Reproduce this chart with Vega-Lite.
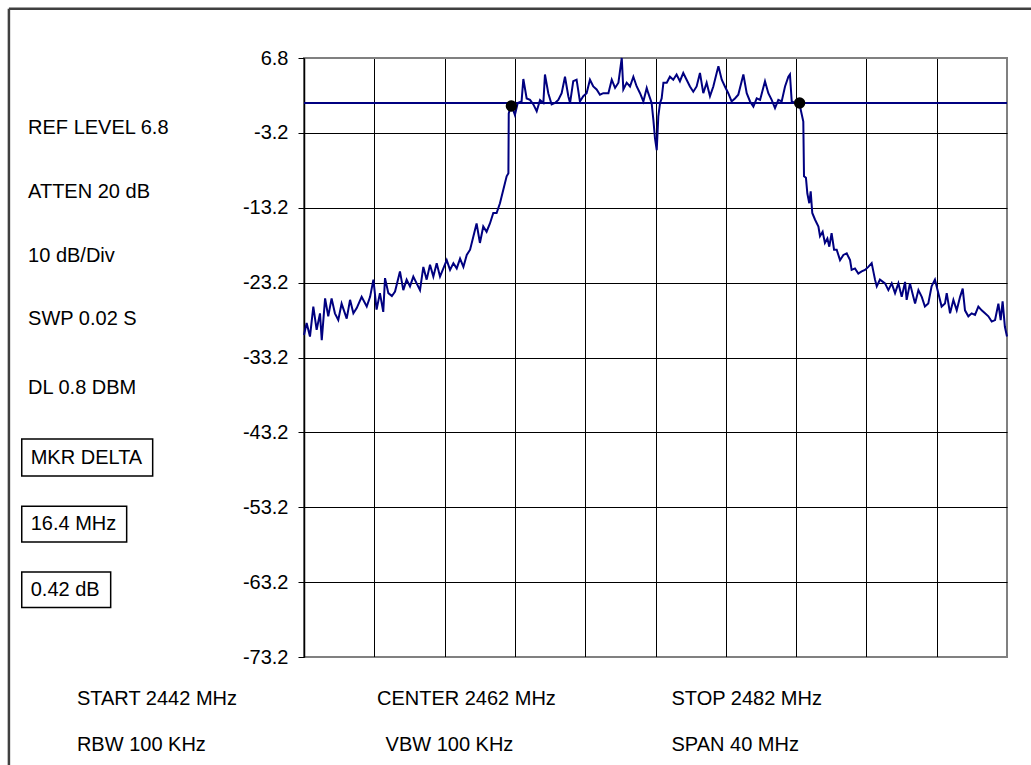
{
  "$schema": "https://vega.github.io/schema/vega-lite/v6.json",
  "autosize": "none",
  "width": 703,
  "height": 599,
  "padding": {"left": 304, "top": 58, "right": 24, "bottom": 108},
  "background": "white",
  "config": {
    "view": {"stroke": "#808080", "strokeWidth": 2},
    "font": "Liberation Sans",
    "text": {"font": "Liberation Sans"}
  },
  "datasets": {
    "trace": [
      {"f":2442.00,"db":-30.2},{"f":2442.15,"db":-28.6},{"f":2442.34,"db":-30.4},{"f":2442.53,"db":-26.4},{"f":2442.72,"db":-29.5},{"f":2442.91,"db":-27.3},{"f":2443.01,"db":-30.9},{"f":2443.20,"db":-25.3},{"f":2443.38,"db":-27.7},{"f":2443.57,"db":-25.3},{"f":2443.76,"db":-27.3},{"f":2443.95,"db":-28.2},{"f":2444.14,"db":-26.0},{"f":2444.43,"db":-28.0},{"f":2444.62,"db":-25.5},{"f":2444.81,"db":-27.3},{"f":2445.00,"db":-26.6},{"f":2445.28,"db":-25.1},{"f":2445.57,"db":-26.4},{"f":2445.76,"db":-25.1},{"f":2445.95,"db":-22.8},{"f":2446.13,"db":-26.8},{"f":2446.32,"db":-24.6},{"f":2446.51,"db":-27.1},{"f":2446.61,"db":-22.6},{"f":2446.80,"db":-24.6},{"f":2447.00,"db":-25.0},{"f":2447.18,"db":-24.4},{"f":2447.46,"db":-21.7},{"f":2447.65,"db":-24.2},{"f":2447.84,"db":-22.8},{"f":2448.03,"db":-23.7},{"f":2448.22,"db":-22.4},{"f":2448.41,"db":-23.3},{"f":2448.60,"db":-24.2},{"f":2448.79,"db":-21.1},{"f":2448.98,"db":-22.8},{"f":2449.17,"db":-20.8},{"f":2449.36,"db":-22.4},{"f":2449.55,"db":-20.6},{"f":2449.74,"db":-22.4},{"f":2449.93,"db":-21.3},{"f":2450.12,"db":-20.2},{"f":2450.31,"db":-21.5},{"f":2450.50,"db":-20.6},{"f":2450.69,"db":-21.3},{"f":2450.88,"db":-20.0},{"f":2451.07,"db":-21.1},{"f":2451.26,"db":-19.5},{"f":2451.45,"db":-18.8},{"f":2451.64,"db":-17.0},{"f":2451.82,"db":-15.3},{"f":2452.01,"db":-17.9},{"f":2452.20,"db":-15.7},{"f":2452.39,"db":-16.4},{"f":2452.58,"db":-15.3},{"f":2452.77,"db":-13.9},{"f":2452.96,"db":-13.9},{"f":2453.15,"db":-12.6},{"f":2453.34,"db":-10.8},{"f":2453.53,"db":-9.0},{"f":2453.63,"db":-8.6},{"f":2453.65,"db":-0.6},{"f":2453.72,"db":0.0},{"f":2453.85,"db":0.2},{"f":2454.00,"db":-0.8},{"f":2454.16,"db":0.8},{"f":2454.38,"db":1.0},{"f":2454.48,"db":4.0},{"f":2454.67,"db":1.4},{"f":2454.86,"db":1.2},{"f":2455.05,"db":0.6},{"f":2455.24,"db":-0.3},{"f":2455.43,"db":1.2},{"f":2455.62,"db":0.8},{"f":2455.71,"db":4.6},{"f":2455.90,"db":2.1},{"f":2456.09,"db":0.6},{"f":2456.28,"db":0.8},{"f":2456.47,"db":1.2},{"f":2456.66,"db":2.1},{"f":2456.85,"db":4.3},{"f":2457.04,"db":1.7},{"f":2457.14,"db":0.8},{"f":2457.32,"db":3.7},{"f":2457.51,"db":3.9},{"f":2457.70,"db":1.0},{"f":2457.89,"db":1.7},{"f":2458.08,"db":2.1},{"f":2458.27,"db":3.9},{"f":2458.46,"db":3.0},{"f":2458.65,"db":2.6},{"f":2458.84,"db":1.9},{"f":2459.03,"db":2.1},{"f":2459.32,"db":2.1},{"f":2459.51,"db":3.9},{"f":2459.70,"db":2.8},{"f":2459.89,"db":3.5},{"f":2460.08,"db":6.8},{"f":2460.17,"db":2.6},{"f":2460.36,"db":3.5},{"f":2460.55,"db":3.0},{"f":2460.74,"db":4.3},{"f":2460.93,"db":3.0},{"f":2461.12,"db":2.1},{"f":2461.31,"db":1.0},{"f":2461.50,"db":2.8},{"f":2461.59,"db":2.1},{"f":2461.78,"db":0.8},{"f":2461.88,"db":-1.5},{"f":2461.97,"db":-3.9},{"f":2462.07,"db":-5.5},{"f":2462.16,"db":-1.0},{"f":2462.26,"db":0.8},{"f":2462.35,"db":1.4},{"f":2462.45,"db":3.5},{"f":2462.64,"db":3.5},{"f":2462.82,"db":4.3},{"f":2463.01,"db":3.9},{"f":2463.20,"db":4.6},{"f":2463.39,"db":3.7},{"f":2463.58,"db":4.8},{"f":2463.77,"db":3.9},{"f":2463.96,"db":3.0},{"f":2464.15,"db":2.3},{"f":2464.34,"db":3.0},{"f":2464.53,"db":4.8},{"f":2464.72,"db":2.1},{"f":2464.91,"db":3.5},{"f":2465.10,"db":1.7},{"f":2465.29,"db":3.0},{"f":2465.48,"db":4.8},{"f":2465.58,"db":5.7},{"f":2465.77,"db":3.9},{"f":2465.95,"db":3.0},{"f":2466.14,"db":2.1},{"f":2466.33,"db":1.0},{"f":2466.52,"db":1.4},{"f":2466.71,"db":1.9},{"f":2467.00,"db":4.6},{"f":2467.19,"db":2.1},{"f":2467.38,"db":1.0},{"f":2467.57,"db":0.3},{"f":2467.76,"db":1.4},{"f":2467.95,"db":1.2},{"f":2468.23,"db":3.7},{"f":2468.42,"db":2.1},{"f":2468.61,"db":1.2},{"f":2468.80,"db":0.1},{"f":2468.99,"db":1.2},{"f":2469.18,"db":1.0},{"f":2469.37,"db":3.0},{"f":2469.56,"db":4.3},{"f":2469.65,"db":4.6},{"f":2469.75,"db":1.0},{"f":2469.94,"db":0.8},{"f":2470.18,"db":0.8},{"f":2470.41,"db":-1.7},{"f":2470.45,"db":-9.0},{"f":2470.56,"db":-9.2},{"f":2470.64,"db":-11.3},{"f":2470.75,"db":-12.6},{"f":2470.83,"db":-11.0},{"f":2470.92,"db":-13.9},{"f":2471.08,"db":-14.8},{"f":2471.27,"db":-15.7},{"f":2471.36,"db":-17.0},{"f":2471.51,"db":-16.4},{"f":2471.64,"db":-17.9},{"f":2471.78,"db":-17.3},{"f":2471.89,"db":-18.4},{"f":2472.02,"db":-16.6},{"f":2472.16,"db":-18.8},{"f":2472.31,"db":-18.8},{"f":2472.50,"db":-20.2},{"f":2472.69,"db":-19.5},{"f":2472.88,"db":-19.3},{"f":2473.07,"db":-20.2},{"f":2473.16,"db":-21.5},{"f":2473.35,"db":-21.3},{"f":2473.54,"db":-22.0},{"f":2473.73,"db":-21.7},{"f":2473.92,"db":-21.5},{"f":2474.11,"db":-21.1},{"f":2474.30,"db":-20.6},{"f":2474.49,"db":-22.8},{"f":2474.59,"db":-23.7},{"f":2474.77,"db":-22.8},{"f":2475.06,"db":-23.3},{"f":2475.25,"db":-24.2},{"f":2475.44,"db":-23.3},{"f":2475.63,"db":-24.6},{"f":2475.82,"db":-23.3},{"f":2476.01,"db":-25.1},{"f":2476.20,"db":-23.1},{"f":2476.29,"db":-25.5},{"f":2476.48,"db":-23.3},{"f":2476.67,"db":-25.1},{"f":2476.77,"db":-26.0},{"f":2476.96,"db":-24.2},{"f":2477.15,"db":-25.1},{"f":2477.33,"db":-26.4},{"f":2477.52,"db":-26.0},{"f":2477.71,"db":-23.7},{"f":2477.90,"db":-22.8},{"f":2478.09,"db":-24.6},{"f":2478.28,"db":-26.4},{"f":2478.47,"db":-26.0},{"f":2478.57,"db":-24.6},{"f":2478.76,"db":-27.3},{"f":2478.95,"db":-25.5},{"f":2479.14,"db":-26.9},{"f":2479.33,"db":-25.1},{"f":2479.48,"db":-24.0},{"f":2479.61,"db":-26.9},{"f":2479.80,"db":-27.7},{"f":2479.99,"db":-27.3},{"f":2480.18,"db":-27.5},{"f":2480.37,"db":-26.4},{"f":2480.56,"db":-26.9},{"f":2480.75,"db":-27.3},{"f":2480.94,"db":-27.7},{"f":2481.13,"db":-28.4},{"f":2481.32,"db":-28.2},{"f":2481.51,"db":-26.0},{"f":2481.64,"db":-28.2},{"f":2481.75,"db":-25.7},{"f":2481.88,"db":-29.1},{"f":2482.00,"db":-30.4}
    ],
    "markers": [{"f": 2453.8, "db": 0.38}, {"f": 2470.2, "db": 0.8}],
    "dl": [{"db": 0.8}],
    "boxes": [
      {"f": 2425.94, "f2": 2433.39, "db": -44.10, "db2": -49.04},
      {"f": 2425.94, "f2": 2431.91, "db": -53.05, "db2": -57.83},
      {"f": 2425.94, "f2": 2431.00, "db": -61.84, "db2": -66.60}
    ],
    "frame": [
      {"f": 2425.21, "f2": 2425.21, "db": 13.39, "db2": -100},
      {"f": 2425.21, "f2": 2490, "db": 13.39, "db2": 13.39}
    ],
    "labels": [
      {"f": 2426.30, "db": -2.56, "label": "REF LEVEL 6.8"},
      {"f": 2426.30, "db": -11.14, "label": "ATTEN 20 dB"},
      {"f": 2426.30, "db": -19.63, "label": "10 dB/Div"},
      {"f": 2426.30, "db": -28.05, "label": "SWP 0.02 S"},
      {"f": 2426.30, "db": -37.28, "label": "DL 0.8 DBM"},
      {"f": 2426.45, "db": -46.57, "label": "MKR DELTA"},
      {"f": 2426.45, "db": -55.46, "label": "16.4 MHz"},
      {"f": 2426.45, "db": -64.22, "label": "0.42 dB"},
      {"f": 2429.08, "db": -78.8, "label": "START 2442 MHz"},
      {"f": 2429.08, "db": -85.0, "label": "RBW 100 KHz"},
      {"f": 2446.15, "db": -78.8, "label": "CENTER 2462 MHz"},
      {"f": 2446.64, "db": -85.0, "label": "VBW 100 KHz"},
      {"f": 2462.91, "db": -78.8, "label": "STOP 2482 MHz"},
      {"f": 2462.91, "db": -85.0, "label": "SPAN 40 MHz"}
    ]
  },
  "layer": [
    {
      "data": {"name": "trace"},
      "mark": {"type": "line", "color": "#000080", "strokeWidth": 2},
      "encoding": {
        "x": {
          "field": "f", "type": "quantitative",
          "scale": {"domain": [2442, 2482], "nice": false, "zero": false},
          "axis": {
            "values": [2442, 2446, 2450, 2454, 2458, 2462, 2466, 2470, 2474, 2478, 2482],
            "labels": false, "ticks": false, "domain": false, "title": null,
            "grid": true, "gridWidth": 1,
            "gridColor": {"condition": {"test": "datum.value > 2481", "value": "#808080"}, "value": "#000000"}
          }
        },
        "y": {
          "field": "db", "type": "quantitative",
          "scale": {"domain": [-73.2, 6.8], "nice": false, "zero": false},
          "axis": {
            "values": [6.8, -3.2, -13.2, -23.2, -33.2, -43.2, -53.2, -63.2, -73.2],
            "labelExpr": "toString(datum.value)", "title": null,
            "labelFont": "Liberation Sans", "labelFontSize": 20, "labelColor": "#000000",
            "labelPadding": 10,
            "tickColor": "#000000", "tickSize": 6, "tickWidth": 1,
            "domain": true, "domainColor": "#000000", "domainWidth": 1.5,
            "grid": true, "gridWidth": 1,
            "gridColor": {"condition": {"test": "datum.value > 6 || datum.value < -73", "value": "#808080"}, "value": "#000000"}
          }
        }
      }
    },
    {
      "data": {"name": "dl"},
      "mark": {"type": "rule", "color": "#000080", "strokeWidth": 2},
      "encoding": {"y": {"field": "db", "type": "quantitative", "title": null}}
    },
    {
      "data": {"name": "markers"},
      "mark": {"type": "point", "shape": "circle", "filled": true, "color": "#000000", "size": 130, "opacity": 1},
      "encoding": {
        "x": {"field": "f", "type": "quantitative", "title": null},
        "y": {"field": "db", "type": "quantitative", "title": null}
      }
    },
    {
      "data": {"name": "frame"},
      "mark": {"type": "rule", "color": "#404040", "strokeWidth": 2.5},
      "encoding": {
        "x": {"field": "f", "type": "quantitative", "title": null},
        "x2": {"field": "f2"},
        "y": {"field": "db", "type": "quantitative", "title": null},
        "y2": {"field": "db2"}
      }
    },
    {
      "data": {"name": "boxes"},
      "mark": {"type": "rect", "fill": "#ffffff", "stroke": "#000000", "strokeWidth": 1.5},
      "encoding": {
        "x": {"field": "f", "type": "quantitative", "title": null},
        "x2": {"field": "f2"},
        "y": {"field": "db", "type": "quantitative", "title": null},
        "y2": {"field": "db2"}
      }
    },
    {
      "data": {"name": "labels"},
      "mark": {"type": "text", "align": "left", "baseline": "middle", "fontSize": 20, "font": "Liberation Sans", "color": "#000000"},
      "encoding": {
        "x": {"field": "f", "type": "quantitative", "title": null},
        "y": {"field": "db", "type": "quantitative", "title": null},
        "text": {"field": "label"}
      }
    }
  ]
}
